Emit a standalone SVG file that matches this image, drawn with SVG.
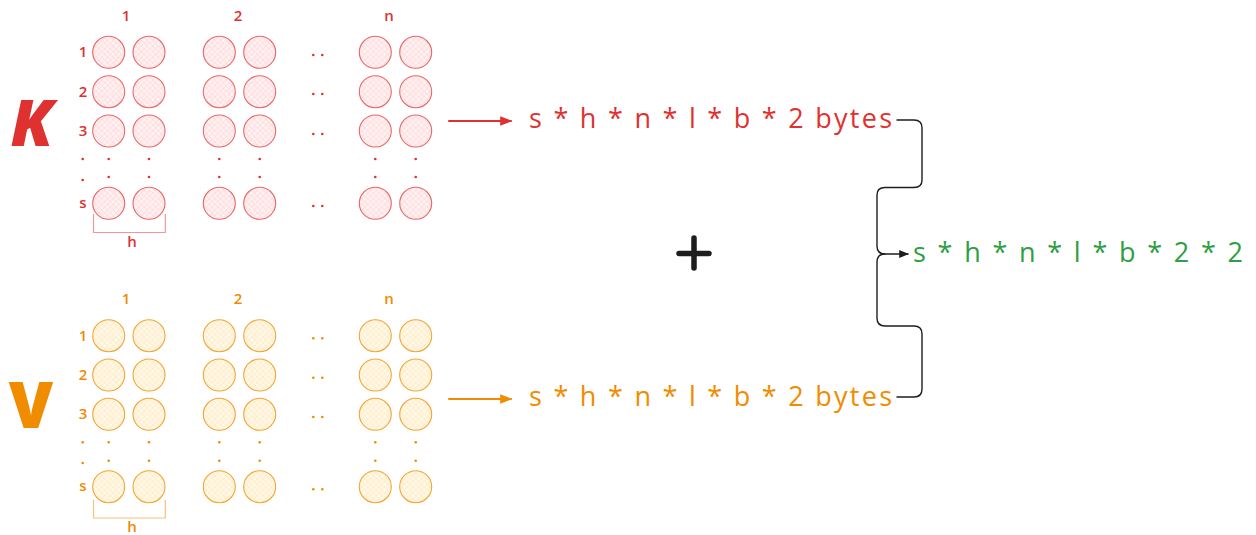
<svg xmlns="http://www.w3.org/2000/svg" width="1256" height="535" viewBox="0 0 1256 535">
  <defs>
    <!-- cross-hatch fills for the cells -->
    <pattern id="hatch-red" width="4" height="4" patternUnits="userSpaceOnUse" patternTransform="rotate(45)">
      <rect width="4" height="4" fill="#fff1f1"/>
      <path d="M0 0V4M0 0H4" stroke="#ffc9c9" stroke-width="0.8"/>
    </pattern>
    <pattern id="hatch-orange" width="4" height="4" patternUnits="userSpaceOnUse" patternTransform="rotate(45)">
      <rect width="4" height="4" fill="#fff8e8"/>
      <path d="M0 0V4M0 0H4" stroke="#ffe1a8" stroke-width="0.8"/>
    </pattern>
    <marker id="head-red" viewBox="0 0 10 10" refX="9" refY="5" markerWidth="7" markerHeight="6" orient="auto">
      <path d="M0 1L10 5L0 9z" fill="#e03131"/>
    </marker>
    <marker id="head-orange" viewBox="0 0 10 10" refX="9" refY="5" markerWidth="7" markerHeight="6" orient="auto">
      <path d="M0 1L10 5L0 9z" fill="#f08c00"/>
    </marker>
    <marker id="head-black" viewBox="0 0 10 10" refX="9" refY="5" markerWidth="8" markerHeight="7" orient="auto">
      <path d="M0 1L10 5L0 9z" fill="#1e1e1e"/>
    </marker>
  </defs>
  <style>
    text { font-family: "Open Sans", "Liberation Sans", sans-serif; }
    .red { fill: #e03131; }
    .orange { fill: #f08c00; }
    .green { fill: #2f9e44; }
    .lbl { font-size: 15px; font-weight: 600; text-anchor: middle; }
    .big { font-size: 64px; font-weight: 800; text-anchor: middle; }
    .slant { font-style: italic; }
    .formula { font-size: 27px; font-weight: 500; }
    .cell-r { fill: url(#hatch-red); stroke: #e9686a; stroke-width: 1.1; }
    .cell-o { fill: url(#hatch-orange); stroke: #f4a533; stroke-width: 1.1; }
    .dot-r { fill: #e03131; }
    .dot-o { fill: #f08c00; }
    .brk-r { fill: none; stroke: #ef9a9a; stroke-width: 1.2; }
    .brk-o { fill: none; stroke: #f7c27a; stroke-width: 1.2; }
  </style>

  <rect width="1256" height="535" fill="#ffffff"/>

  <!-- K matrix -->
  <g id="k-matrix">
    <text class="red big slant" x="32" y="146">K</text>
    <text class="red lbl" x="126" y="21">1</text>
    <text class="red lbl" x="238" y="21">2</text>
    <text class="red lbl" x="389" y="21">n</text>
    <text class="red lbl" x="83" y="57">1</text>
    <text class="red lbl" x="83" y="97">2</text>
    <text class="red lbl" x="83" y="136">3</text>
    <text class="red lbl" x="83" y="208">s</text>
    <g>
      <circle class="cell-r" cx="108.7" cy="52.3" r="16"/><circle class="cell-r" cx="149" cy="52.3" r="16"/>
      <circle class="cell-r" cx="219.3" cy="52.3" r="16"/><circle class="cell-r" cx="259.7" cy="52.3" r="16"/>
      <circle class="cell-r" cx="375.3" cy="52.3" r="16"/><circle class="cell-r" cx="415.7" cy="52.3" r="16"/>
      <circle class="cell-r" cx="108.7" cy="91.7" r="16"/><circle class="cell-r" cx="149" cy="91.7" r="16"/>
      <circle class="cell-r" cx="219.3" cy="91.7" r="16"/><circle class="cell-r" cx="259.7" cy="91.7" r="16"/>
      <circle class="cell-r" cx="375.3" cy="91.7" r="16"/><circle class="cell-r" cx="415.7" cy="91.7" r="16"/>
      <circle class="cell-r" cx="108.7" cy="131" r="16"/><circle class="cell-r" cx="149" cy="131" r="16"/>
      <circle class="cell-r" cx="219.3" cy="131" r="16"/><circle class="cell-r" cx="259.7" cy="131" r="16"/>
      <circle class="cell-r" cx="375.3" cy="131" r="16"/><circle class="cell-r" cx="415.7" cy="131" r="16"/>
      <circle class="cell-r" cx="108.7" cy="203.3" r="16"/><circle class="cell-r" cx="149" cy="203.3" r="16"/>
      <circle class="cell-r" cx="219.3" cy="203.3" r="16"/><circle class="cell-r" cx="259.7" cy="203.3" r="16"/>
      <circle class="cell-r" cx="375.3" cy="203.3" r="16"/><circle class="cell-r" cx="415.7" cy="203.3" r="16"/>
    </g>
    <g class="dot-r">
      <circle cx="82.7" cy="159" r="1.3"/><circle cx="82.7" cy="180" r="1.3"/>
      <circle cx="108.7" cy="159" r="1.3"/><circle cx="108.7" cy="177" r="1.3"/>
      <circle cx="149" cy="159" r="1.3"/><circle cx="149" cy="177" r="1.3"/>
      <circle cx="219.3" cy="159" r="1.3"/><circle cx="219.3" cy="177" r="1.3"/>
      <circle cx="259.7" cy="159" r="1.3"/><circle cx="259.7" cy="177" r="1.3"/>
      <circle cx="375.3" cy="159" r="1.3"/><circle cx="375.3" cy="177" r="1.3"/>
      <circle cx="415.7" cy="159" r="1.3"/><circle cx="415.7" cy="177" r="1.3"/>
      <circle cx="313.3" cy="55" r="1.3"/><circle cx="322.3" cy="55" r="1.3"/>
      <circle cx="313.3" cy="94" r="1.3"/><circle cx="322.3" cy="94" r="1.3"/>
      <circle cx="313.3" cy="134" r="1.3"/><circle cx="322.3" cy="134" r="1.3"/>
      <circle cx="313.3" cy="206" r="1.3"/><circle cx="322.3" cy="206" r="1.3"/>
    </g>
    <path class="brk-r" d="M93.5 214V232.5H165.3V214"/>
    <text class="red lbl" x="132" y="247">h</text>
  </g>

  <!-- V matrix -->
  <g id="v-matrix">
    <text class="orange big" x="31" y="428">V</text>
    <text class="orange lbl" x="126" y="304">1</text>
    <text class="orange lbl" x="238" y="304">2</text>
    <text class="orange lbl" x="389" y="304">n</text>
    <text class="orange lbl" x="83" y="341">1</text>
    <text class="orange lbl" x="83" y="380">2</text>
    <text class="orange lbl" x="83" y="419">3</text>
    <text class="orange lbl" x="83" y="491">s</text>
    <g>
      <circle class="cell-o" cx="108.7" cy="335.7" r="16"/><circle class="cell-o" cx="149" cy="335.7" r="16"/>
      <circle class="cell-o" cx="219.3" cy="335.7" r="16"/><circle class="cell-o" cx="259.7" cy="335.7" r="16"/>
      <circle class="cell-o" cx="375.3" cy="335.7" r="16"/><circle class="cell-o" cx="415.7" cy="335.7" r="16"/>
      <circle class="cell-o" cx="108.7" cy="375" r="16"/><circle class="cell-o" cx="149" cy="375" r="16"/>
      <circle class="cell-o" cx="219.3" cy="375" r="16"/><circle class="cell-o" cx="259.7" cy="375" r="16"/>
      <circle class="cell-o" cx="375.3" cy="375" r="16"/><circle class="cell-o" cx="415.7" cy="375" r="16"/>
      <circle class="cell-o" cx="108.7" cy="414.3" r="16"/><circle class="cell-o" cx="149" cy="414.3" r="16"/>
      <circle class="cell-o" cx="219.3" cy="414.3" r="16"/><circle class="cell-o" cx="259.7" cy="414.3" r="16"/>
      <circle class="cell-o" cx="375.3" cy="414.3" r="16"/><circle class="cell-o" cx="415.7" cy="414.3" r="16"/>
      <circle class="cell-o" cx="108.7" cy="486.7" r="16"/><circle class="cell-o" cx="149" cy="486.7" r="16"/>
      <circle class="cell-o" cx="219.3" cy="486.7" r="16"/><circle class="cell-o" cx="259.7" cy="486.7" r="16"/>
      <circle class="cell-o" cx="375.3" cy="486.7" r="16"/><circle class="cell-o" cx="415.7" cy="486.7" r="16"/>
    </g>
    <g class="dot-o">
      <circle cx="82.7" cy="442.3" r="1.3"/><circle cx="82.7" cy="463" r="1.3"/>
      <circle cx="108.7" cy="442.3" r="1.3"/><circle cx="108.7" cy="460.7" r="1.3"/>
      <circle cx="149" cy="442.3" r="1.3"/><circle cx="149" cy="460.7" r="1.3"/>
      <circle cx="219.3" cy="442.3" r="1.3"/><circle cx="219.3" cy="460.7" r="1.3"/>
      <circle cx="259.7" cy="442.3" r="1.3"/><circle cx="259.7" cy="460.7" r="1.3"/>
      <circle cx="375.3" cy="442.3" r="1.3"/><circle cx="375.3" cy="460.7" r="1.3"/>
      <circle cx="415.7" cy="442.3" r="1.3"/><circle cx="415.7" cy="460.7" r="1.3"/>
      <circle cx="313.3" cy="338.3" r="1.3"/><circle cx="322.3" cy="338.3" r="1.3"/>
      <circle cx="313.3" cy="377.7" r="1.3"/><circle cx="322.3" cy="377.7" r="1.3"/>
      <circle cx="313.3" cy="417" r="1.3"/><circle cx="322.3" cy="417" r="1.3"/>
      <circle cx="313.3" cy="489.3" r="1.3"/><circle cx="322.3" cy="489.3" r="1.3"/>
    </g>
    <path class="brk-o" d="M93.5 500V518H165.3V500"/>
    <text class="orange lbl" x="132" y="532">h</text>
  </g>

  <!-- size formulas -->
  <g id="k-size">
    <text class="red formula" x="529" y="128" textLength="363" lengthAdjust="spacing">s * h * n * l * b * 2 bytes</text>
  </g>
  <g id="v-size">
    <text class="orange formula" x="529" y="406" textLength="363" lengthAdjust="spacing">s * h * n * l * b * 2 bytes</text>
  </g>
  <g id="total-size">
    <text class="green formula" x="913" y="262" textLength="330" lengthAdjust="spacing">s * h * n * l * b * 2 * 2</text>
  </g>

  <!-- plus sign -->
  <g id="plus">
    <path d="M679 253.5H709M694 238V268" stroke="#1e1e1e" stroke-width="5.5" stroke-linecap="round" fill="none"/>
  </g>

  <!-- connectors -->
  <g id="connectors" fill="none" stroke-linecap="round" stroke-linejoin="round">
    <path d="M449 121H511" stroke="#e03131" stroke-width="2" marker-end="url(#head-red)"/>
    <path d="M449 399H511" stroke="#f08c00" stroke-width="2" marker-end="url(#head-orange)"/>
    <path d="M897 120H914Q922 120 922 128V180Q922 187.5 914 187.5H885Q877 187.5 877 195V246Q877 254 885 254H908" stroke="#1e1e1e" stroke-width="1.4" marker-end="url(#head-black)"/>
    <path d="M897 397H914Q922 397 922 389V334Q922 326 914 326H885Q877 326 877 318V262Q877 254 885 254" stroke="#1e1e1e" stroke-width="1.4"/>
  </g>
</svg>
